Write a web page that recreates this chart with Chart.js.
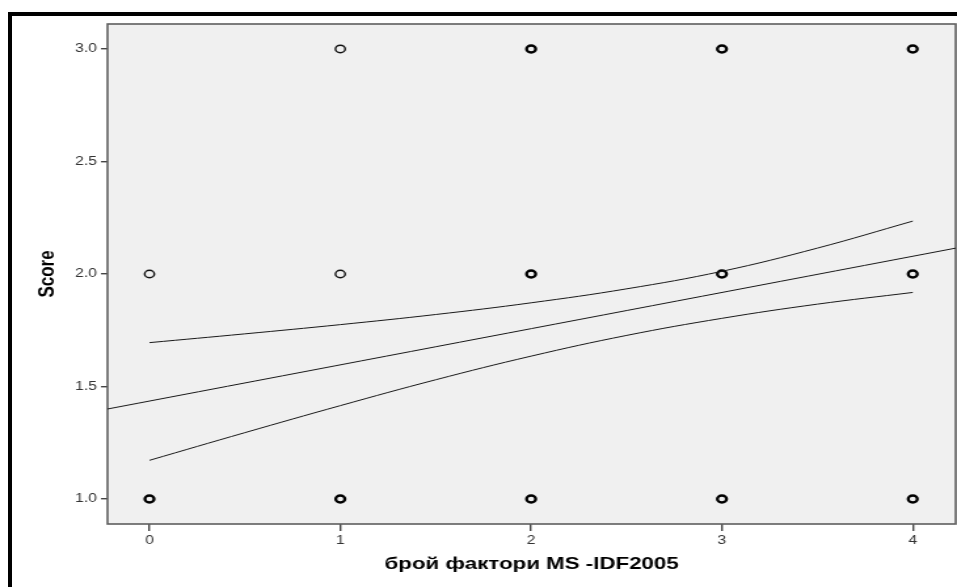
<!DOCTYPE html>
<html>
<head>
<meta charset="utf-8">
<title>Score</title>
<script src="https://cdn.jsdelivr.net/npm/chart.js@4.4.1/dist/chart.umd.min.js"></script>
<style>
    html, body { margin: 0; padding: 0; width: 957px; height: 587px; overflow: hidden; background: #fff; }
    #frame { position: absolute; left: 8px; top: 12px; width: 1100px; height: 800px; border: 4px solid #000; }
</style>
</head>
<body>
<div id="frame"></div>
<!-- drawn at 730 wide and stretched to the page width -->
<canvas id="chartScore" width="730" height="587" style="position:absolute;left:0;top:0;width:957px;height:587px"></canvas>
<script>
// observations (single cases) and repeated cases (drawn heavier)
var singleX = [0, 1, 1];
var singleY = [2, 3, 2];
var repeatedX = [0, 1, 2, 2, 2, 3, 3, 3, 4, 4, 4];
var repeatedY = [1, 1, 3, 2, 1, 3, 2, 1, 3, 2, 1];

// linear fit and 95% confidence band for the mean
var fitX = [-0.22, 4.225];
var fitY = [1.400, 2.115];
var bandX = [0, 0.5, 1, 1.5, 2, 2.5, 3, 3.5, 4];
var bandUpper = [1.695, 1.734, 1.775, 1.820, 1.872, 1.934, 2.012, 2.115, 2.235];
var bandLower = [1.172, 1.295, 1.415, 1.530, 1.635, 1.727, 1.803, 1.866, 1.918];

var xTicks = [0, 1, 2, 3, 4];
var yTicks = [1.0, 1.5, 2.0, 2.5, 3.0];

var xTitle = "брой фактори MS -IDF2005";
var yTitle = "Score";

function toPoints(xs, ys) {
    var pts = [];
    for (var i = 0; i < xs.length; i++) {
        pts.push({ x: xs[i], y: ys[i] });
    }
    return pts;
}

var plotFrame = {
    id: 'plotFrame',
    beforeDraw: function (chart) {
        var a = chart.chartArea;
        var ctx = chart.ctx;
        ctx.save();
        ctx.fillStyle = '#f0f0f0';
        ctx.fillRect(a.left, a.top, a.right - a.left, a.bottom - a.top);
        ctx.restore();
    },
    beforeDatasetsDraw: function (chart) {
        var a = chart.chartArea;
        var ctx = chart.ctx;
        ctx.save();
        ctx.strokeStyle = '#5e5e5e';
        ctx.lineWidth = 1.6;
        ctx.strokeRect(a.left, a.top, a.right - a.left, a.bottom - a.top);
        ctx.restore();
    }
};

function lineSet(xs, ys) {
    return {
        type: 'scatter',
        data: toPoints(xs, ys),
        showLine: true,
        borderColor: '#1a1a1a',
        borderWidth: 1,
        pointRadius: 0,
        tension: 0.4,
        fill: false
    };
}

function drawChart() {
    var tickFont = { family: "'Liberation Sans', Arial, sans-serif", size: 12 };
    var titleFont = { family: "'Liberation Sans', Arial, sans-serif", size: 17, weight: 'bold' };

    var ctx = document.getElementById('chartScore');
    var myChart = new Chart(ctx, {
        type: 'scatter',
        data: {
            datasets: [
                lineSet(fitX, fitY),
                lineSet(bandX, bandUpper),
                lineSet(bandX, bandLower),
                {
                    data: toPoints(singleX, singleY),
                    pointStyle: 'circle',
                    pointRadius: 3.7,
                    pointBorderWidth: 1.4,
                    pointBorderColor: '#111',
                    pointBackgroundColor: 'rgba(0,0,0,0)'
                },
                {
                    data: toPoints(repeatedX, repeatedY),
                    pointStyle: 'circle',
                    pointRadius: 3.5,
                    pointBorderWidth: 2.3,
                    pointBorderColor: '#000',
                    pointBackgroundColor: 'rgba(0,0,0,0)'
                }
            ]
        },
        options: {
            responsive: false,
            devicePixelRatio: 1,
            animation: false,
            layout: { autoPadding: false, padding: { top: 24, right: 1, left: 0, bottom: 0 } },
            plugins: {
                legend: { display: false },
                tooltip: { enabled: false }
            },
            scales: {
                x: {
                    type: 'linear',
                    min: -0.22,
                    max: 4.225,
                    afterBuildTicks: function (scale) {
                        scale.ticks = xTicks.map(function (v) { return { value: v }; });
                    },
                    afterFit: function (scale) {
                        scale.height = 63;
                        scale.paddingLeft = 0;
                        scale.paddingRight = 0;
                    },
                    border: { display: false },
                    grid: { display: true, drawOnChartArea: false, drawTicks: true, tickLength: 7, color: '#444', lineWidth: 1.4 },
                    ticks: {
                        padding: 2,
                        maxRotation: 0,
                        autoSkip: false,
                        color: '#333',
                        font: tickFont,
                        callback: function (v) { return String(v); }
                    },
                    title: { display: true, text: xTitle, color: '#000', font: titleFont, padding: { top: 0, bottom: 12 } }
                },
                y: {
                    type: 'linear',
                    min: 0.889,
                    max: 3.111,
                    afterBuildTicks: function (scale) {
                        scale.ticks = yTicks.map(function (v) { return { value: v }; });
                    },
                    afterFit: function (scale) {
                        scale.width = 82;
                        scale.paddingTop = 0;
                        scale.paddingBottom = 0;
                    },
                    border: { display: false },
                    grid: { display: true, drawOnChartArea: false, drawTicks: true, tickLength: 5, color: '#444', lineWidth: 1.4 },
                    ticks: {
                        padding: 3,
                        autoSkip: false,
                        color: '#333',
                        font: tickFont,
                        callback: function (v) { return Number(v).toFixed(1); }
                    },
                    title: { display: true, text: yTitle, color: '#000', font: titleFont, padding: { top: 26, bottom: 0 } }
                }
            }
        },
        plugins: [plotFrame]
    });
}

drawChart();
</script>
</body>
</html>
